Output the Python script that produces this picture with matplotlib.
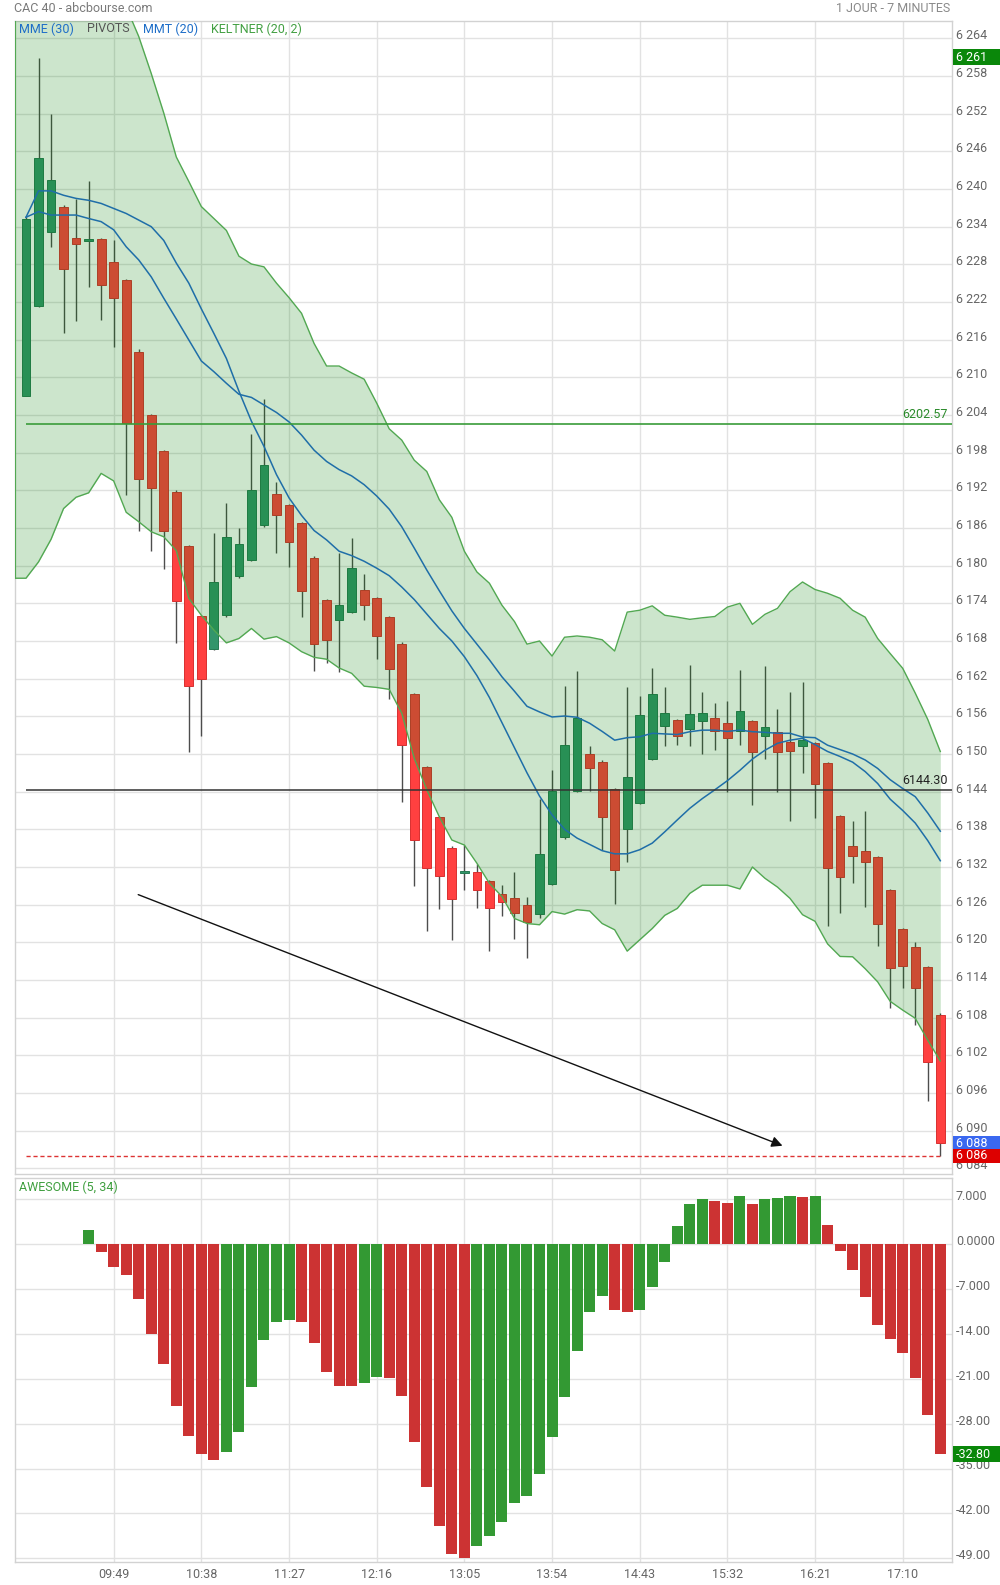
import numpy as np
import matplotlib
matplotlib.use('Agg')
import matplotlib.pyplot as plt
from matplotlib.patches import Rectangle
from matplotlib.transforms import blended_transform_factory, ScaledTranslation

plt.rcParams['font.family'] = ['Roboto', 'DejaVu Sans']

# ---------------- data (CAC 40, 7-minute candles, 09:00 -> 17:31) ----------------
opens = [6207.1, 6221.4, 6233.1, 6237.2, 6232.2, 6231.7, 6232.0, 6228.3, 6225.5, 6214.1,
         6203.95, 6198.3, 6191.8, 6183.1, 6172.0, 6166.8, 6172.1, 6178.3, 6180.85, 6186.4,
         6191.4, 6189.6, 6186.75, 6181.3, 6174.5, 6171.3, 6172.6, 6176.1, 6174.8, 6171.8,
         6167.6, 6159.5, 6147.9, 6139.9, 6135.1, 6131.0, 6131.15, 6129.7, 6127.65, 6127.0,
         6125.9, 6124.5, 6129.25, 6136.7, 6144.1, 6149.95, 6148.8, 6144.4, 6138.0, 6142.15,
         6149.15, 6154.4, 6155.4, 6154.0, 6155.2, 6155.8, 6154.9, 6153.6, 6155.2, 6152.8,
         6153.5, 6151.9, 6151.2, 6151.7, 6148.5, 6140.1, 6135.3, 6134.5, 6133.55, 6128.3,
         6122.1, 6119.2, 6116.0, 6108.5]
highs = [6235.5, 6260.8, 6252.0, 6237.4, 6238.4, 6241.3, 6232.2, 6231.9, 6225.7, 6214.5,
         6204.2, 6198.5, 6192.0, 6183.3, 6172.2, 6185.15, 6190.0, 6186.0, 6200.9, 6206.55,
         6193.3, 6189.8, 6187.0, 6181.5, 6174.7, 6182.0, 6184.4, 6178.6, 6175.0, 6172.0,
         6167.8, 6159.7, 6148.1, 6140.1, 6135.3, 6135.5, 6132.4, 6129.9, 6129.1, 6131.15,
         6127.2, 6142.8, 6147.4, 6160.8, 6163.2, 6151.2, 6149.0, 6144.6, 6160.6, 6159.2,
         6163.65, 6160.7, 6155.6, 6164.2, 6159.9, 6158.2, 6158.4, 6163.4, 6155.4, 6164.0,
         6157.1, 6159.9, 6161.4, 6151.9, 6148.7, 6140.3, 6139.3, 6140.9, 6133.7, 6128.5,
         6122.3, 6120.0, 6116.2, 6108.7]
lows = [6207.0, 6221.2, 6230.8, 6217.0, 6219.0, 6224.4, 6219.2, 6214.9, 6191.3, 6185.6,
        6182.4, 6179.5, 6167.7, 6150.3, 6152.8, 6166.6, 6171.9, 6178.1, 6180.7, 6186.2,
        6182.0, 6179.8, 6171.9, 6163.2, 6164.45, 6163.0, 6172.4, 6171.3, 6165.2, 6158.7,
        6142.3, 6128.9, 6121.8, 6125.3, 6120.3, 6128.3, 6125.4, 6118.6, 6124.15, 6120.5,
        6117.5, 6123.8, 6129.1, 6136.5, 6143.9, 6144.1, 6134.7, 6126.1, 6132.75, 6142.0,
        6149.0, 6151.3, 6151.5, 6151.2, 6150.0, 6150.6, 6143.9, 6151.4, 6141.8, 6149.15,
        6143.9, 6139.4, 6146.9, 6139.8, 6122.6, 6124.6, 6129.4, 6125.7, 6119.4, 6109.5,
        6112.8, 6106.8, 6094.7, 6086.0]
closes = [6235.3, 6245.0, 6241.4, 6227.2, 6231.3, 6232.0, 6224.65, 6222.6, 6202.8, 6193.75,
          6192.4, 6185.6, 6174.3, 6160.8, 6161.9, 6177.35, 6184.5, 6183.4, 6192.0, 6196.1,
          6188.0, 6183.7, 6175.9, 6167.5, 6168.2, 6173.7, 6179.6, 6173.7, 6168.75, 6163.5,
          6151.5, 6136.25, 6131.8, 6130.5, 6126.9, 6131.3, 6128.3, 6125.4, 6126.5, 6124.6,
          6123.2, 6134.0, 6144.1, 6151.4, 6155.8, 6147.7, 6139.9, 6131.6, 6146.3, 6156.2,
          6159.5, 6156.5, 6152.8, 6156.3, 6156.5, 6153.6, 6152.5, 6156.8, 6150.3, 6154.25,
          6150.3, 6150.4, 6152.2, 6145.2, 6131.8, 6130.4, 6133.7, 6132.75, 6123.0, 6115.9,
          6116.3, 6112.8, 6100.9, 6088.0]

keltner_upper = [6288, 6288, 6288, 6287, 6285, 6283, 6280, 6276, 6269, 6264.3,
                 6258.4, 6252.1, 6245.1, 6241.2, 6237.2, 6235.3, 6233.4, 6229.3, 6228.05, 6227.6,
                 6225.0, 6222.7, 6220.2, 6215.4, 6211.8, 6211.8, 6210.7, 6209.7, 6205.9, 6201.8,
                 6200.0, 6196.8, 6195.0, 6190.5, 6187.7, 6182.3, 6179.0, 6177.2, 6173.7, 6171.1,
                 6167.5, 6168.0, 6165.6, 6168.6, 6168.8, 6168.6, 6168.2, 6166.4, 6172.6, 6172.9,
                 6173.6, 6172.1, 6171.8, 6171.45, 6171.7, 6171.9, 6173.4, 6174.0, 6170.65, 6172.25,
                 6173.2, 6175.85, 6177.4, 6176.2, 6175.6, 6174.8, 6172.9, 6171.8, 6168.4, 6166.0,
                 6163.65, 6159.7, 6155.5, 6150.4]
keltner_lower = [6178.0, 6180.6, 6184.2, 6189.1, 6190.9, 6191.6, 6194.7, 6193.5, 6188.5, 6187.0,
                 6185.4, 6184.6, 6182.4, 6174.8, 6172.1, 6169.75, 6167.7, 6168.4, 6170.0, 6168.3,
                 6168.7, 6167.7, 6166.3, 6165.4, 6165.1, 6163.7, 6162.85, 6160.8, 6160.6, 6160.3,
                 6156.5, 6149.3, 6144.3, 6140.0, 6136.3, 6135.5, 6132.6, 6129.4, 6127.3, 6123.8,
                 6123.0, 6122.8, 6124.9, 6124.5, 6125.2, 6125.0, 6123.0, 6122.0, 6118.6, 6120.4,
                 6122.2, 6124.3, 6125.4, 6127.8, 6129.1, 6129.1, 6129.1, 6128.5, 6132.0, 6130.2,
                 6128.8, 6127.0, 6124.4, 6123.35, 6119.75, 6117.75, 6117.7, 6115.8, 6113.7, 6110.6,
                 6109.2, 6107.9, 6104.4, 6101.1]

mmt20 = [6235.5, 6239.7, 6239.7, 6239.0, 6238.5, 6238.2, 6237.7, 6236.9, 6236.1, 6235.05,
         6234.0, 6231.8, 6228.2, 6225.0, 6220.9, 6217.0, 6213.0, 6207.8, 6203.0, 6199.0,
         6194.5, 6190.8, 6188.0, 6185.6, 6184.1, 6182.3, 6181.6, 6180.7, 6179.6, 6178.4,
         6176.6, 6174.6, 6172.3, 6170.0, 6168.0, 6165.5, 6162.5, 6159.0, 6155.0, 6151.0,
         6147.0, 6143.3, 6140.3, 6138.0, 6136.6, 6135.6, 6134.6, 6134.1, 6134.1, 6134.75,
         6135.8, 6137.6, 6139.5, 6141.35, 6142.9, 6144.3, 6145.75, 6147.4, 6149.2, 6150.6,
         6151.7, 6152.2, 6152.5, 6151.5, 6150.4, 6149.6, 6148.7, 6147.2, 6145.3, 6142.8,
         6141.0, 6139.0, 6136.2, 6133.0]
mme30 = [6235.5, 6236.4, 6235.85, 6235.85, 6235.85, 6235.3, 6234.8, 6233.5, 6230.8, 6228.7,
         6226.0, 6222.6, 6219.3, 6215.95, 6212.6, 6210.9, 6209.05, 6207.3, 6206.8, 6205.6,
         6204.4, 6202.9, 6200.8, 6198.4, 6196.6, 6195.3, 6194.3, 6192.9, 6191.1, 6189.0,
         6186.2, 6182.8, 6179.3, 6176.0, 6172.8, 6170.0, 6167.5, 6165.0, 6162.3, 6160.0,
         6157.6, 6156.7, 6155.9, 6156.05, 6155.85, 6154.9, 6153.6, 6152.2, 6152.6, 6152.75,
         6153.3, 6153.2, 6153.1, 6153.55, 6153.8, 6153.8, 6153.6, 6153.8, 6153.55, 6153.45,
         6153.3, 6153.3, 6152.7, 6152.6, 6151.4, 6150.7, 6150.0, 6149.05, 6147.7, 6145.9,
         6144.5, 6143.2, 6140.6, 6137.7]

ao_first_index = 5
ao_values = [2.23, -1.14, -3.63, -4.87, -8.6, -14.05, -18.7, -25.25, -29.9, -32.7,
             -33.6, -32.4, -29.3, -22.3, -15.0, -12.2, -11.9, -12.2, -15.45, -19.96,
             -22.1, -22.15, -21.7, -20.7, -20.9, -23.7, -30.8, -37.8, -43.9, -48.3,
             -48.9, -47.0, -45.5, -43.3, -40.3, -39.2, -35.8, -30.1, -23.8, -16.7,
             -10.5, -8.1, -10.2, -10.5, -10.2, -6.7, -2.85, 2.85, 6.27, 7.05,
             6.74, 6.43, 7.5, 6.27, 7.05, 7.2, 7.5, 7.36, 7.5, 3.0,
             -1.0, -4.1, -8.3, -12.65, -14.8, -17.0, -20.9, -26.6, -32.8]

time_labels = ['09:49', '10:38', '11:27', '12:16', '13:05', '13:54', '14:43', '15:32', '16:21', '17:10']
time_label_index = [7, 14, 21, 28, 35, 42, 49, 56, 63, 70]
price_ticks = list(range(6084, 6265, 6))
ao_ticks = [7, 0, -7, -14, -21, -28, -35, -42, -49]
ao_tick_labels = ['7.000', '0.0000', '-7.000', '-14.00', '-21.00', '-28.00', '-35.00', '-42.00', '-49.00']

pivot_green = 6202.57
pivot_black = 6144.30
day_high = 6261
day_low = 6086
last_price = 6088
ao_last = -32.80
trend_start = (8.96, 6127.6)
trend_end = (60.4, 6087.6)

# ---------------- layout ----------------
W, H = 1000, 1585
def fx(px):
    return px / W
def fy(py):
    return 1 - py / H

L_PX, R_PX = 14.5, 951.7
fig = plt.figure(figsize=(W / 100, H / 100), dpi=100)
ax = fig.add_axes([fx(L_PX), fy(1174.3), (R_PX - L_PX) / W, (1174.3 - 21) / H])
ax2 = fig.add_axes([fx(L_PX), fy(1562.3), (R_PX - L_PX) / W, (1562.3 - 1178.3) / H])

n = len(closes)
idx = np.arange(n)
X0, X1 = -0.918, 73.91

for a in (ax, ax2):
    a.set_xlim(X0, X1)
    a.set_xticks(time_label_index)
    a.tick_params(length=0, labelleft=False, labelbottom=False, labelright=False)
    a.grid(True, color='#e2e2e2', lw=1)
    a.set_axisbelow(True)
    for s in a.spines.values():
        s.set_color('#d2d2d2')
        s.set_linewidth(1)

ax.set_ylim(6083.05, 6266.76)
ax.set_yticks(price_ticks)
ax2.set_ylim(-49.62, 10.28)
ax2.set_yticks(ao_ticks)

# ---------------- candles ----------------
UP, DOWN = '#33956b', '#ff4040'
UP_E, DOWN_E = '#267a52', '#d83030'
o = np.array(opens); h = np.array(highs); l = np.array(lows); c = np.array(closes)
up = c >= o
ax.vlines(idx, l, h, color='#4d4d4d', lw=1, zorder=2)
body_bottom = np.minimum(o, c)
body_height = np.maximum(np.abs(c - o), 0.3)
ax.bar(idx, body_height, bottom=body_bottom, width=0.7,
       color=np.where(up, UP, DOWN), edgecolor=np.where(up, UP_E, DOWN_E), lw=0.7, zorder=3)

# ---------------- Keltner band (drawn over candles, translucent) ----------------
xs = np.concatenate([[X0], idx])
ku = np.concatenate([[keltner_upper[0]], keltner_upper])
kl = np.concatenate([[keltner_lower[0]], keltner_lower])
ax.fill_between(xs, kl, ku, color=(0, 0.5, 0), alpha=0.2, lw=0, zorder=4)
ax.plot(xs, ku, color='#52a852', lw=1, zorder=5)
ax.plot(xs, kl, color='#52a852', lw=1, zorder=5)
ax.plot([X0, X0], [keltner_lower[0], keltner_upper[0]], color='#52a852', lw=1.5, zorder=5)

# ---------------- moving averages ----------------
ax.plot(idx, mme30, color='#1f6ea8', lw=1.1, zorder=6)
ax.plot(idx, mmt20, color='#1f6ea8', lw=1.1, zorder=6)

# ---------------- pivots / levels ----------------
ax.hlines(pivot_green, idx[0], X1, color='#3a9c3a', lw=1.2, zorder=6)
ax.hlines(pivot_black, idx[0], X1, color='#333333', lw=1.1, zorder=6)
ax.hlines(day_low, idx[0], idx[-1], color='#dd3333', lw=1, linestyles=(0, (3, 2)), zorder=6)
ytr_axes = ax.get_yaxis_transform()
ax.text(0.9957, pivot_green + 0.5, f"{pivot_green:.2f}", transform=ytr_axes, ha='right', va='bottom',
        color='#2a8a2a', fontsize=9, zorder=7)
ax.text(0.9957, pivot_black + 0.5, f"{pivot_black:.2f}", transform=ytr_axes, ha='right', va='bottom',
        color='#222222', fontsize=9, zorder=7)

# trend arrow
ax.annotate('', xy=trend_end, xytext=trend_start,
            arrowprops=dict(arrowstyle='-|>', color='#111111', lw=1, mutation_scale=16,
                            shrinkA=0, shrinkB=0), zorder=7)

# ---------------- Awesome oscillator ----------------
ao = np.array(ao_values)
ao_idx = np.arange(ao_first_index, ao_first_index + len(ao))
prev = np.concatenate([[ao[0] - 1], ao[:-1]])
ao_colors = np.where(ao >= prev, '#339933', '#cc3333')
ax2.bar(ao_idx, ao, width=0.88, color=ao_colors, zorder=3)

ax2.set_xticklabels(time_labels)
ax2.tick_params(axis='x', labelbottom=True, pad=4, labelsize=9, labelcolor='#666666')

# ---------------- right-hand labels ----------------
lift = ScaledTranslation(0, 2.6 / 100, fig.dpi_scale_trans)
tr_price = blended_transform_factory(fig.transFigure, ax.transData)
tr_ao = blended_transform_factory(fig.transFigure, ax2.transData)
for v in price_ticks:
    ax.text(fx(956), v, f"{v:,}".replace(',', ' '), transform=tr_price + lift, ha='left', va='center',
            color='#666666', fontsize=9, zorder=8)
for v, s in zip(ao_ticks, ao_tick_labels):
    ax2.text(fx(956), v, s, transform=tr_ao + lift, ha='left', va='center',
             color='#666666', fontsize=9, zorder=8)

def tag(axis, tr, value, text, color, hpx=16):
    p0 = axis.transData.transform((0, 0))[1]
    p1 = axis.transData.transform((0, 1))[1]
    hd = hpx / (p1 - p0)
    axis.add_patch(Rectangle((fx(953), value - hd / 2), fx(1000) - fx(953), hd, transform=tr,
                             facecolor=color, edgecolor='none', clip_on=False, zorder=10))
    axis.text(fx(956), value, text, transform=tr, ha='left', va='center', color='white',
              fontsize=9, zorder=11, clip_on=False)

tag(ax, tr_price, day_high, f"{day_high:,}".replace(',', ' '), '#0a870a')
tag(ax, tr_price, last_price, f"{last_price:,}".replace(',', ' '), '#3a68f0', hpx=15)
tag(ax, tr_price, day_low, f"{day_low:,}".replace(',', ' '), '#dd0000', hpx=14)
tag(ax2, tr_ao, ao_last, f"{ao_last:.2f}", '#0a870a')

# ---------------- titles & legends ----------------
fig.text(fx(14.3), fy(8.5), 'CAC 40 - abcbourse.com', color='#7a7a7a', fontsize=9, va='center', ha='left')
fig.text(fx(950.7), fy(8.5), '1 JOUR - 7 MINUTES', color='#8a8a8a', fontsize=9, va='center', ha='right')
fig.text(fx(19.3), fy(29), 'MME (30)', color='#1e6ec8', fontsize=9, va='center', ha='left')
fig.text(fx(86.7), fy(29), 'PIVOTS', color='#555555', fontsize=9, va='center', ha='left')
fig.text(fx(142.7), fy(29), 'MMT (20)', color='#1e6ec8', fontsize=9, va='center', ha='left')
fig.text(fx(210.7), fy(29), 'KELTNER (20, 2)', color='#43a043', fontsize=9, va='center', ha='left')
fig.text(fx(19.3), fy(1187), 'AWESOME (5, 34)', color='#3f9f3f', fontsize=9, va='center', ha='left')

fig.savefig('out.png', dpi=100, facecolor='white')
